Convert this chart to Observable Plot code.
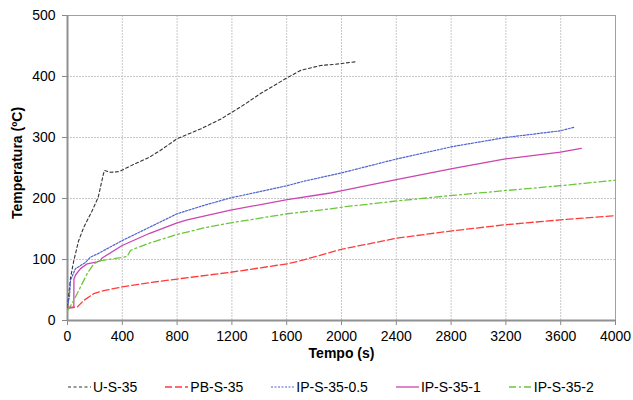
<!DOCTYPE html>
<html>
<head>
<meta charset="utf-8">
<script src="https://cdn.jsdelivr.net/npm/d3@7"></script>
<script src="https://cdn.jsdelivr.net/npm/@observablehq/plot@0.6"></script>
<style>
  body { margin: 0; background: #fff; font-family: "Liberation Sans", Arial, sans-serif; }
  #chart { width: 633px; height: 365px; }
  #legend { display: flex; justify-content: flex-start; gap: 28px; margin-top: 14px; padding-left: 68px; font-size: 14px; line-height: 16px; color: #000; }
  #legend .item { display: flex; align-items: center; gap: 2px; }
  #legend svg { display: block; }
</style>
</head>
<body>
<div id="chart"></div>
<div id="legend"></div>
<script>
// ---- data ----
const seriesNames = ["U-S-35", "PB-S-35", "IP-S-35-0.5", "IP-S-35-1", "IP-S-35-2"];
const xTicks = [0, 400, 800, 1200, 1600, 2000, 2400, 2800, 3200, 3600, 4000];
const yTicks = [0, 100, 200, 300, 400, 500];

const uTime = [0, 22, 46, 80, 119, 180, 224, 262, 270, 314, 375, 484, 600, 679, 800, 971, 1117, 1263, 1409, 1604, 1701, 1847, 1950, 2100];
const uTemp = [22, 70, 98, 130, 153, 180, 202, 240, 246, 243, 244, 256, 268, 279, 298, 314, 330, 350, 372, 398, 410, 418, 420, 424];

const pbTime = [0, 71, 119, 192, 265, 399, 600, 800, 1190, 1604, 1701, 2005, 2406, 2808, 3197, 3599, 4000];
const pbTemp = [22, 22, 33, 44, 49, 55, 62, 68, 79, 93, 98, 117, 135, 147, 157, 165, 172];

const ip05Time = [0, 15, 22, 58, 95, 130, 168, 217, 399, 600, 800, 1000, 1190, 1604, 1701, 2000, 2406, 2808, 3197, 3599, 3701];
const ip05Temp = [22, 40, 66, 85, 90, 95, 104, 109, 131, 153, 175, 189, 201, 221, 227, 242, 265, 285, 300, 311, 317];

const ip1Time = [0, 46, 47, 60, 95, 144, 217, 241, 250, 399, 600, 800, 874, 1190, 1604, 1920, 2005, 2382, 2808, 3197, 3599, 3750];
const ip1Temp = [20, 21, 68, 75, 85, 93, 96, 98, 102, 123, 143, 160, 165, 181, 198, 209, 213, 230, 249, 265, 276, 282];

const ip2Time = [0, 46, 95, 144, 192, 241, 300, 387, 436, 460, 600, 800, 1000, 1190, 1604, 1920, 2005, 2406, 2808, 3197, 3599, 4000];
const ip2Temp = [16, 33, 55, 77, 93, 98, 100, 103, 105, 115, 127, 141, 152, 160, 175, 183, 186, 196, 205, 213, 221, 230];

// ---- styles ----
const styles = {
  "U-S-35":      {stroke: "#333333", dash: "3,2.5", width: 1.1},
  "PB-S-35":     {stroke: "#ff3b3b", dash: "7,3", width: 1.3},
  "IP-S-35-0.5": {stroke: "#5262d0", dash: "2,1.5", width: 1.2},
  "IP-S-35-1":   {stroke: "#cc44b0", dash: null, width: 1.3},
  "IP-S-35-2":   {stroke: "#6cc63a", dash: "7,3,2,3", width: 1.3}
};

const seriesData = [
  [uTime, uTemp], [pbTime, pbTemp], [ip05Time, ip05Temp], [ip1Time, ip1Temp], [ip2Time, ip2Temp]
];
const rows = seriesData.map(([ts, vs], i) => ts.map((t, j) => ({name: seriesNames[i], t, v: vs[j]})));

const lineMarks = rows.map(r => {
  const s = styles[r[0].name];
  return Plot.line(r, {x: "t", y: "v", stroke: s.stroke, strokeWidth: s.width, strokeDasharray: s.dash || undefined});
});

const chart = Plot.plot({
  width: 633,
  height: 365,
  marginLeft: 67,
  marginRight: 18,
  marginTop: 15,
  marginBottom: 45,
  style: {fontFamily: "'Liberation Sans', Arial, sans-serif", fontSize: "14px", color: "#000", background: "#fff"},
  x: {domain: [0, 4000], label: null},
  y: {domain: [0, 500], label: null},
  marks: [
    Plot.gridX(xTicks, {stroke: "#c8c8c8", strokeOpacity: 1, strokeDasharray: "2,1"}),
    Plot.gridY(yTicks, {stroke: "#c8c8c8", strokeOpacity: 1, strokeDasharray: "2,1"}),
    Plot.frame({stroke: "#a0a0a0"}),
    Plot.axisX(xTicks, {tickSize: 5, tickPadding: 6, stroke: "#888", label: null, fontSize: 14, tickFormat: d => String(d)}),
    Plot.axisY(yTicks, {tickSize: 5, tickPadding: 7, stroke: "#888", label: null, fontSize: 14, tickFormat: d => String(d)}),
    Plot.ruleX([0], {stroke: "#909090", strokeWidth: 2}),
    Plot.ruleY([0], {stroke: "#909090", strokeWidth: 2}),
    ...lineMarks,
    Plot.text(["Tempo (s)"], {frameAnchor: "bottom", dy: 37, fontWeight: "bold", fontSize: 14, textAnchor: "middle"}),
    Plot.text(["Temperatura (ºC)"], {frameAnchor: "left", dx: -50, dy: -5, rotate: -90, fontWeight: "bold", fontSize: 14, textAnchor: "middle"})
  ]
});
document.getElementById("chart").appendChild(chart);

// ---- legend ----
const legend = document.getElementById("legend");
seriesNames.forEach(n => {
  const s = styles[n];
  const item = document.createElement("div");
  item.className = "item";
  item.innerHTML = `<svg width="23" height="10"><line x1="0" y1="5" x2="23" y2="5" stroke="${s.stroke}" stroke-width="${s.width}" ${s.dash ? `stroke-dasharray="${s.dash}"` : ""}/></svg><span>${n}</span>`;
  legend.appendChild(item);
});
</script>
</body>
</html>
